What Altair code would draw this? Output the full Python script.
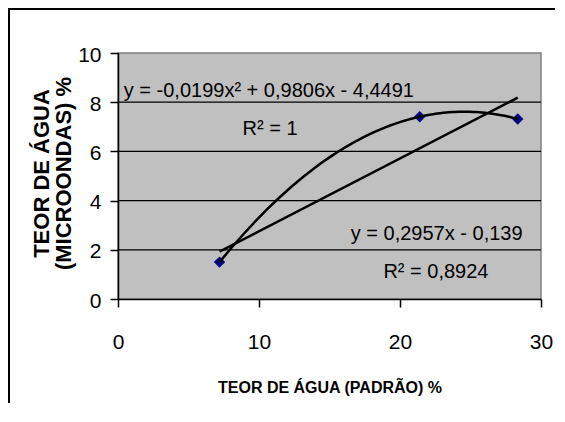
import altair as alt
import pandas as pd

# data
x_padrao = [7.2, 21.4, 28.35]
y_micro = [1.5, 7.41, 7.32]

ann_text = ["y = -0,0199x² + 0,9806x - 4,4491", "R² = 1",
            "y = 0,2957x - 0,139", "R² = 0,8924"]
ann_x = [10.7, 10.78, 22.6, 22.55]
ann_y = [8.21, 6.67, 2.40, 0.85]

x_ticks = [0, 10, 20, 30]
y_ticks = [0, 2, 4, 6, 8, 10]
grid_y = [2, 4, 6, 8]

pts = pd.DataFrame({"x": x_padrao, "y": y_micro})
ann = pd.DataFrame({"t": ann_text, "x": ann_x, "y": ann_y})
grid = pd.DataFrame({"g": grid_y})
one = pd.DataFrame({"a": [0]})

SANS = "Liberation Sans, Arial"

xs = alt.Scale(domain=[0, 30], nice=False, zero=False)
ys = alt.Scale(domain=[0, 10], nice=False)

xaxis = alt.Axis(values=x_ticks, title="TEOR DE ÁGUA (PADRÃO) %", grid=False,
                 domainColor="black", domainWidth=1.5, tickColor="black",
                 tickWidth=1.5, tickSize=8, labelFont=SANS, labelFontSize=21,
                 labelColor="black", labelPadding=24, labelFlush=False,
                 titleFont=SANS, titleFontSize=16, titleFontWeight="bold",
                 titleColor="black", titleBaseline="alphabetic", titleY=93)
yaxis = alt.Axis(values=y_ticks, title=["TEOR DE ÁGUA", "(MICROONDAS) %"],
                 grid=False, domainColor="black", domainWidth=1.5,
                 tickColor="black", tickWidth=1.5, tickSize=8,
                 labelFont=SANS, labelFontSize=21, labelColor="black",
                 labelPadding=9, labelFlush=False, labelOffset=2,
                 titleFont=SANS, titleFontSize=22, titleFontWeight="bold",
                 titleColor="black", titleAngle=270, titleAlign="center",
                 titleBaseline="alphabetic", titleLineHeight=22,
                 titleX=-70, titleY=120)

gridlines = alt.Chart(grid).mark_rule(color="black", strokeWidth=1.2).encode(
    y=alt.Y("g:Q", scale=ys, axis=yaxis))

points = alt.Chart(pts).mark_point(shape="diamond", filled=True, color="#000080",
                                   size=130, opacity=1).encode(
    x=alt.X("x:Q", scale=xs, axis=xaxis),
    y=alt.Y("y:Q", scale=ys))

poly = alt.Chart(pts).transform_regression("x", "y", method="poly", order=2).mark_line(
    color="black", strokeWidth=2.5).encode(
    x=alt.X("x:Q", scale=xs), y=alt.Y("y:Q", scale=ys))

lin = alt.Chart(pts).transform_regression("x", "y", method="linear").mark_line(
    color="black", strokeWidth=2.5).encode(
    x=alt.X("x:Q", scale=xs), y=alt.Y("y:Q", scale=ys))

text = alt.Chart(ann).mark_text(font=SANS, fontSize=20, color="black",
                                align="center", baseline="alphabetic").encode(
    x=alt.X("x:Q", scale=xs), y=alt.Y("y:Q", scale=ys), text="t:N")

frame_left = alt.Chart(one).mark_rule(color="black", strokeWidth=2).encode(
    x=alt.value(-109), y=alt.value(-44), y2=alt.value(360))
frame_top = alt.Chart(one).mark_rule(color="black", strokeWidth=2).encode(
    x=alt.value(-110), x2=alt.value(437), y=alt.value(-44))

chart = alt.layer(gridlines, points, poly, lin, text, frame_left, frame_top).properties(
    width=423, height=246,
    autosize=alt.AutoSizeParams(type="none"),
    padding={"left": 110, "top": 45, "right": 16, "bottom": 104},
    background="white",
).configure_view(fill="#C0C0C0", stroke="#808080", strokeWidth=1.5)

chart.save("out.html", embed_options={"renderer": "svg", "actions": False})
